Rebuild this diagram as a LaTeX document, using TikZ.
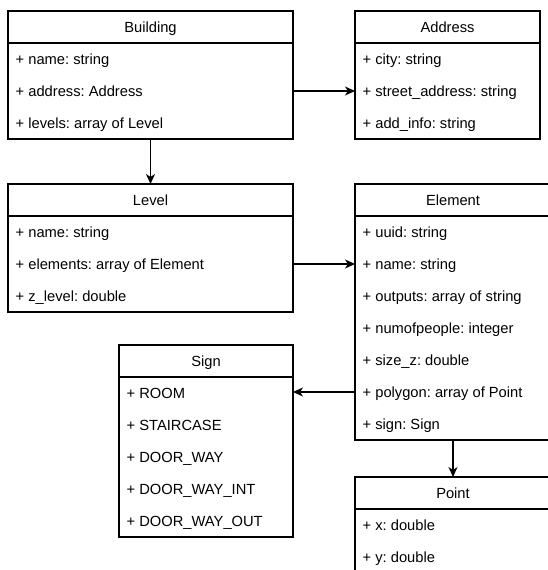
\documentclass[tikz,border=0pt]{standalone}
\usepackage{fontspec}
\setmainfont{Liberation Sans}
\usetikzlibrary{arrows.meta}
\frenchspacing
\begin{document}
\begin{tikzpicture}[x=1pt,y=-1pt,
  classbox/.style={draw=black, line width=1.2pt, anchor=north west, inner sep=0pt, outer sep=0pt},
  hline/.style={line width=1.2pt},
  ctitle/.style={anchor=base, inner sep=0pt, font=\fontsize{14.7}{17}\selectfont},
  attr/.style={anchor=base west, inner sep=0pt, font=\fontsize{14.7}{17}\selectfont},
  conn/.style={line width=1.2pt, -{Stealth[length=10pt,width=9pt,inset=3pt]}}]
\useasboundingbox (0,0) rectangle (548,570);
\clip (0,0) rectangle (548,570);
% Building
\node[classbox, minimum width=285pt, minimum height=128pt] (building) at (8,11) {};
\draw[hline] (8,43) -- (293,43);
\node[ctitle] (bt) at (150.5,32.5) {Building};
\node[attr] (b1) at (15.5,64.5) {+ name: string};
\node[attr] (b2) at (15.5,96.5) {+ address: Address};
\node[attr] (b3) at (15.5,128.5) {+ levels: array of Level};
\coordinate (b2c) at (15.5,91);
% Address
\node[classbox, minimum width=185pt, minimum height=128pt] (address) at (355,11) {};
\draw[hline] (355,43) -- (540,43);
\node[ctitle] (at) at (447.5,32.5) {Address};
\node[attr] (a1) at (362.5,64.5) {+ city: string};
\node[attr] (a2) at (362.5,96.5) {+ street\_address: string};
\node[attr] (a3) at (362.5,128.5) {+ add\_info: string};
% Level
\node[classbox, minimum width=285pt, minimum height=128pt] (level) at (8,184) {};
\draw[hline] (8,216) -- (293,216);
\node[ctitle] (lt) at (150.5,205.5) {Level};
\node[attr] (l1) at (15.5,237.5) {+ name: string};
\node[attr] (l2) at (15.5,269.5) {+ elements: array of Element};
\node[attr] (l3) at (15.5,301.5) {+ z\_level: double};
\coordinate (l2c) at (15.5,264);
% Element
\node[classbox, minimum width=196pt, minimum height=256pt] (element) at (355,184) {};
\draw[hline] (355,216) -- (551,216);
\node[ctitle] (et) at (453,205.5) {Element};
\node[attr] (e1) at (362.5,237.5) {+ uuid: string};
\node[attr] (e2) at (362.5,269.5) {+ name: string};
\node[attr] (e3) at (362.5,301.5) {+ outputs: array of string};
\node[attr] (e4) at (362.5,333.5) {+ numofpeople: integer};
\node[attr] (e5) at (362.5,365.5) {+ size\_z: double};
\node[attr] (e6) at (362.5,397.5) {+ polygon: array of Point};
\node[attr] (e7) at (362.5,429.5) {+ sign: Sign};
\coordinate (e6c) at (362.5,392);
% Sign
\node[classbox, minimum width=174pt, minimum height=192pt] (sign) at (119,345) {};
\draw[hline] (119,377) -- (293,377);
\node[ctitle] (st) at (206,366.5) {Sign};
\node[attr] (s1) at (126.5,398.5) {+ ROOM};
\node[attr] (s2) at (126.5,430.5) {+ STAIRCASE};
\node[attr] (s3) at (126.5,462.5) {+ DOOR\_WAY};
\node[attr] (s4) at (126.5,494.5) {+ DOOR\_WAY\_INT};
\node[attr] (s5) at (126.5,526.5) {+ DOOR\_WAY\_OUT};
% Point
\node[classbox, minimum width=196pt, minimum height=96pt] (point) at (355,477) {};
\draw[hline] (355,509) -- (551,509);
\node[ctitle] (pt) at (453,498.5) {Point};
\node[attr] (p1) at (362.5,530.5) {+ x: double};
\node[attr] (p2) at (362.5,562.5) {+ y: double};
% connectors
\draw[conn] (building.east |- b2c) -- (address.west |- b2c);
\draw[conn] (building.south) -- (level.north);
\draw[conn] (level.east |- l2c) -- (element.west |- l2c);
\draw[conn] (element.west |- e6c) -- (sign.east |- e6c);
\draw[conn] (element.south) -- (point.north);
\end{tikzpicture}
\end{document}
